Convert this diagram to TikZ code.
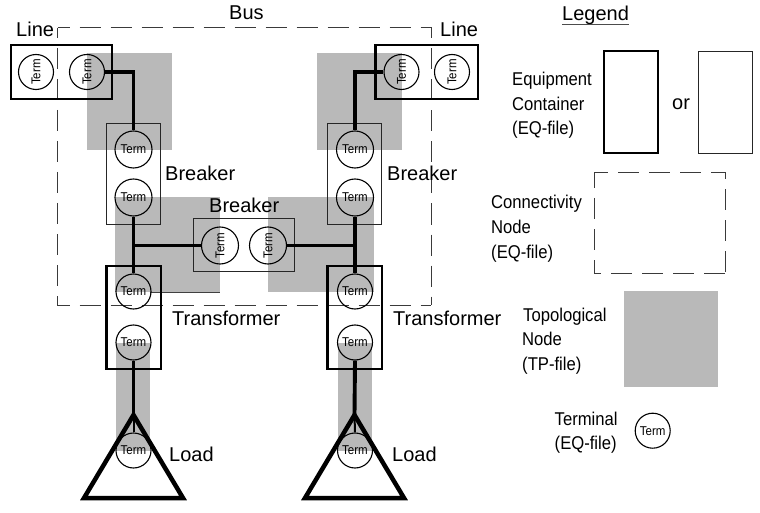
\documentclass[tikz,border=0pt]{standalone}
\usepackage{graphicx}
\usepackage{fontspec}
\setmainfont{Liberation Sans}
\newfontfamily\narrowfont[FakeStretch=0.9]{Liberation Sans}
\definecolor{tngrey}{HTML}{B9B9B9}
\definecolor{dashgrey}{HTML}{3A3A3A}
\tikzset{
  tn/.style={fill=tngrey,draw=none},
  eqthick/.style={draw=black,line width=2.5pt},
  eqthin/.style={draw=black!85,line width=0.9pt},
  cn/.style={draw=dashgrey,line width=1pt,dash pattern=on 21pt off 10pt},
  termv/.style={circle,draw=black,line width=1.1pt,minimum size=35pt,inner sep=0pt,font=\narrowfont\fontsize{12.8}{13}\selectfont},
  wire/.style={draw=black,line width=3.9pt},
  wirethin/.style={draw=black,line width=2pt},
  lbl/.style={anchor=base west,inner sep=0pt,font=\fontsize{20}{24}\selectfont},
  leg/.style={anchor=base west,inner sep=0pt,align=left,font=\narrowfont\fontsize{18.5}{24.5}\selectfont},
  load/.style={draw=black,line width=4.5pt,line join=miter}
}
\newcommand{\rterm}{\rotatebox{90}{Term}}
\begin{document}
\begin{tikzpicture}[x=1pt,y=-1pt]
\useasboundingbox (0,0) rectangle (760,513);
% topological nodes
\fill[tn] (87,53) rectangle (172,150);
\fill[tn] (316.5,53) rectangle (402,150);
\fill[tn] (115,197) rectangle (220,292);
\fill[tn] (267.5,197) rectangle (374,292);
\fill[tn] (116,343) rectangle (150,451);
\fill[tn] (337.5,343) rectangle (372,451);
\fill[tn] (624.3,290.7) rectangle (718.3,387);
\draw[draw=black!75,line width=0.8pt] (150,292) -- (220,292);
% bus
\draw[cn,dash phase=9] (57.5,28) -- (431,28) -- (431,305);
\draw[cn,dash phase=11] (57.5,28) -- (57.5,305) -- (431,305);
% equipment containers
\draw[eqthick] (11,45) rectangle (112,99);
\draw[eqthick] (375.7,45) rectangle (478,99);
\draw[eqthin] (106.5,123) rectangle (160,224.5);
\draw[eqthin] (327.7,123) rectangle (381.5,224.5);
\draw[eqthin] (193.5,218) rectangle (294.5,271);
\draw[eqthick] (106.5,266) rectangle (161,369);
\draw[eqthick] (327.5,266) rectangle (382,369);
% terminals
\node[termv] (l1) at (36,72) {\rterm};
\node[termv] (l2) at (87,72) {\rterm};
\node[termv] (r2) at (401.5,72) {\rterm};
\node[termv] (r1) at (452,72) {\rterm};
\node[termv,minimum size=37pt] (bl1) at (133.5,149.5) {Term};
\node[termv,minimum size=37pt] (bl2) at (133.5,197.5) {Term};
\node[termv,minimum size=37pt] (br1) at (355,149.5) {Term};
\node[termv,minimum size=37pt] (br2) at (355,197.5) {Term};
\node[termv,minimum size=37pt] (bm1) at (220,245.5) {\rterm};
\node[termv,minimum size=37pt] (bm2) at (268,245.5) {\rterm};
\node[termv] (tl1) at (133.5,291.5) {Term};
\node[termv] (tl2) at (133.5,342.5) {Term};
\node[termv] (tr1) at (355,291.5) {Term};
\node[termv] (tr2) at (355,342.5) {Term};
\node[termv] (ll) at (133.5,450.5) {Term};
\node[termv] (lr) at (355,450.5) {Term};
\node[termv] (legterm) at (652.7,430.7) {Term};
% loads
\coordinate (al) at (133.5,415);
\coordinate (ar) at (354.5,415);
\draw[load] (al) -- (84,498) -- (183,498) -- cycle;
\draw[load] (ar) -- (305,498) -- (404,498) -- cycle;
% connectors
\draw[wire] (l2.east) -| (bl1.north);
\draw[wire] (r2.west) -| (br1.north);
\draw[wire] (bl2.south) -- (tl1.north);
\draw[wire] (br2.south) -- (tr1.north);
\coordinate (jl) at (133.5,245.5);
\coordinate (jr) at (355,245.5);
\draw[wire] (jl) -- (bm1.west);
\draw[wire] (jr) -- (bm2.east);
\draw[wire] (tl2.south) -- (al);
\draw[wire] (tr2.south) -- (ar);
\draw[wirethin] (al) -- (ll.north);
\draw[wirethin] (ar) -- (lr.north);
% labels
\node[lbl] (tLineL) at (16,37) {Line};
\node[lbl] (tBus) at (229,20) {Bus};
\node[lbl] (tLineR) at (440,37) {Line};
\node[lbl] (tBrL) at (165,181) {Breaker};
\node[lbl] (tBrR) at (387,181) {Breaker};
\node[lbl] (tBrM) at (209,213) {Breaker};
\node[lbl] (tTrL) at (172,325) {Transformer};
\node[lbl] (tTrR) at (393,325) {Transformer};
\node[lbl] (tLoL) at (169,461) {Load};
\node[lbl] (tLoR) at (392,461) {Load};
% legend
\node[lbl] (tLeg) at (562,21) {Legend};
\draw[draw=black!70,line width=1pt] (tLeg.base west)++(0,3.5) -- ++(67,0);
\draw[eqthick] (604,51) rectangle (658,153);
\draw[eqthin] (698.7,51.5) rectangle (752,153);
\node[lbl] (tOr) at (672,110) {or};
\node[leg] (tEq1) at (512,86) {Equipment};
\node[leg] (tEq2) at (512,110.5) {Container};
\node[leg] (tEq3) at (512,135) {(EQ-file)};
\draw[cn,dash phase=7] (594,173) -- (725.7,173) -- (725.7,273.7);
\draw[cn,dash phase=6] (594,173) -- (594,273.7) -- (725.7,273.7);
\node[leg] (tCn1) at (491,209) {Connectivity};
\node[leg] (tCn2) at (491,233.5) {Node};
\node[leg] (tCn3) at (491,258) {(EQ-file)};
\node[leg] (tTp1) at (523,321) {Topological};
\node[leg] (tTp2) at (522,345.5) {Node};
\node[leg] (tTp3) at (522,370) {(TP-file)};
\node[leg] (tTe1) at (554.5,425) {Terminal};
\node[leg] (tTe2) at (554.5,449.5) {(EQ-file)};
\end{tikzpicture}
\end{document}
